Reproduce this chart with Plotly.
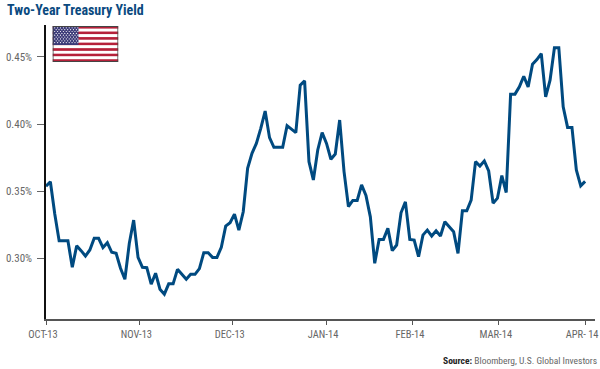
import base64
import plotly.graph_objects as go

yields = [.3537,.357,.333,.313,.313,.313,.2933,.3094,.3057,.3017,.3062,.3149,.3149,.308,.3116,.3045,.3037,.2926,.2844,.311,
.3285,.3007,.2933,.293,.2807,.2889,.277,.2733,.281,.281,.2918,.2884,.2844,.2881,.2881,.2923,.3042,.3042,.3007,.3007,
.3082,.324,.3265,.3329,.321,.3347,.3671,.3782,.3856,.3968,.4097,.3899,.3827,.3827,.3827,.3988,.396,.3936,.429,.4322,
.372,.3584,.3807,.3936,.3856,.3738,.3777,.403,.3646,.3386,.3431,.3431,.3547,.3468,.3309,.2963,.3141,.3141,.3223,.3057,
.3099,.3339,.3421,.3141,.3136,.3012,.3173,.321,.3166,.3205,.3166,.3272,.3235,.3198,.3037,.3354,.3354,.3433,.372,.3688,
.3725,.3651,.3411,.3448,.3616,.349,.4223,.4223,.4277,.4356,.4277,.4446,.448,.4525,.4203,.4327,.4569,.4569,.4129,.3975,
.3975,.3658,.354,.3573]
session = list(range(len(yields)))
month_positions = [0, 21.3, 42.6, 63.9, 83.7, 103.3, 123]
month_labels = ["OCT-13", "NOV-13", "DEC-13", "JAN-14", "FEB-14", "MAR-14", "APR- 14"]
y_ticks = [.30, .35, .40, .45]
y_labels = ["0.30%", "0.35%", "0.40%", "0.45%"]

NARROW = "Roboto Condensed, DejaVu Sans Condensed, sans-serif"

w, h = 66, 36
stripes = "".join(
    f'<rect x="0" y="{i*h/13:.2f}" width="{w}" height="{h/13:.2f}" fill="{"#b5213a" if i%2==0 else "#ffffff"}"/>'
    for i in range(13))
stars = "".join(
    f'<circle cx="{2.2+c*2.9+(1.45 if r%2 else 0):.1f}" cy="{1.8+r*1.85:.1f}" r="0.6" fill="#fff"/>'
    for r in range(9) for c in range(8 if r%2 else 9))
svg = (f'<svg xmlns="http://www.w3.org/2000/svg" width="{w}" height="{h}" viewBox="0 0 {w} {h}">{stripes}'
       f'<rect width="26" height="19" fill="#3b3a78"/>{stars}'
       f'<rect x="0.5" y="0.5" width="{w-1}" height="{h-1}" fill="none" stroke="#444" stroke-width="1"/></svg>')
flag = "data:image/svg+xml;base64," + base64.b64encode(svg.encode()).decode()

fig = go.Figure(go.Scatter(x=session, y=yields, mode="lines",
                           line=dict(color="#004a80", width=3, shape="linear"),
                           cliponaxis=False, hoverinfo="skip"))
W, H = 600, 369
L, R, T, B = 45.5, 595, 25, 319
fig.update_layout(
    width=W, height=H, autosize=False, showlegend=False,
    paper_bgcolor="white", plot_bgcolor="white",
    margin=dict(l=L, r=W-R, t=T, b=H-B, pad=0),
    xaxis=dict(range=[0, (R-L)/4.387], tickmode="array", tickvals=month_positions, ticktext=month_labels,
               showgrid=False, zeroline=False, showline=True, linecolor="#555555", linewidth=1.5,
               ticks="outside", ticklen=4, tickwidth=1, tickcolor="#555555", automargin=False,
               ticklabelstandoff=1, ticklabelshift=-3, ticklabeloverflow="allow", tickangle=0,
               tickfont=dict(family=NARROW, size=10.5, color="#666666")),
    yaxis=dict(range=[.2548, .4738], tickmode="array", tickvals=y_ticks, ticktext=y_labels,
               showgrid=False, zeroline=False, showline=True, linecolor="#111111", linewidth=1.5,
               ticks="outside", ticklen=7, tickwidth=1.2, tickcolor="#666666", ticklabelstandoff=3, automargin=False,
               tickfont=dict(family=NARROW, size=11, color="#666666")),
    images=[dict(source=flag, xref="paper", yref="paper", x=(52-L)/(R-L), y=(B-26)/(B-T),
                 sizex=66/(R-L), sizey=36/(B-T), xanchor="left", yanchor="top", sizing="stretch", layer="above")],
    annotations=[
        dict(text="<b>Two-Year Treasury Yield</b>", xref="paper", yref="paper",
             x=(4-L)/(R-L), y=(B-10)/(B-T), xanchor="left", yanchor="middle", showarrow=False,
             font=dict(family=NARROW, size=14, color="#0b4a80")),
        dict(text='<b style="color:#222">Source:</b> Bloomberg, U.S. Global Investors', xref="paper", yref="paper",
             x=(599-L)/(R-L), y=(B-360.5)/(B-T), xanchor="right", yanchor="middle", showarrow=False,
             font=dict(family=NARROW, size=9.5, color="#666666")),
    ],
)
fig.write_html("out.html", config=dict(displayModeBar=False), post_script="document.body.style.margin='0';")
